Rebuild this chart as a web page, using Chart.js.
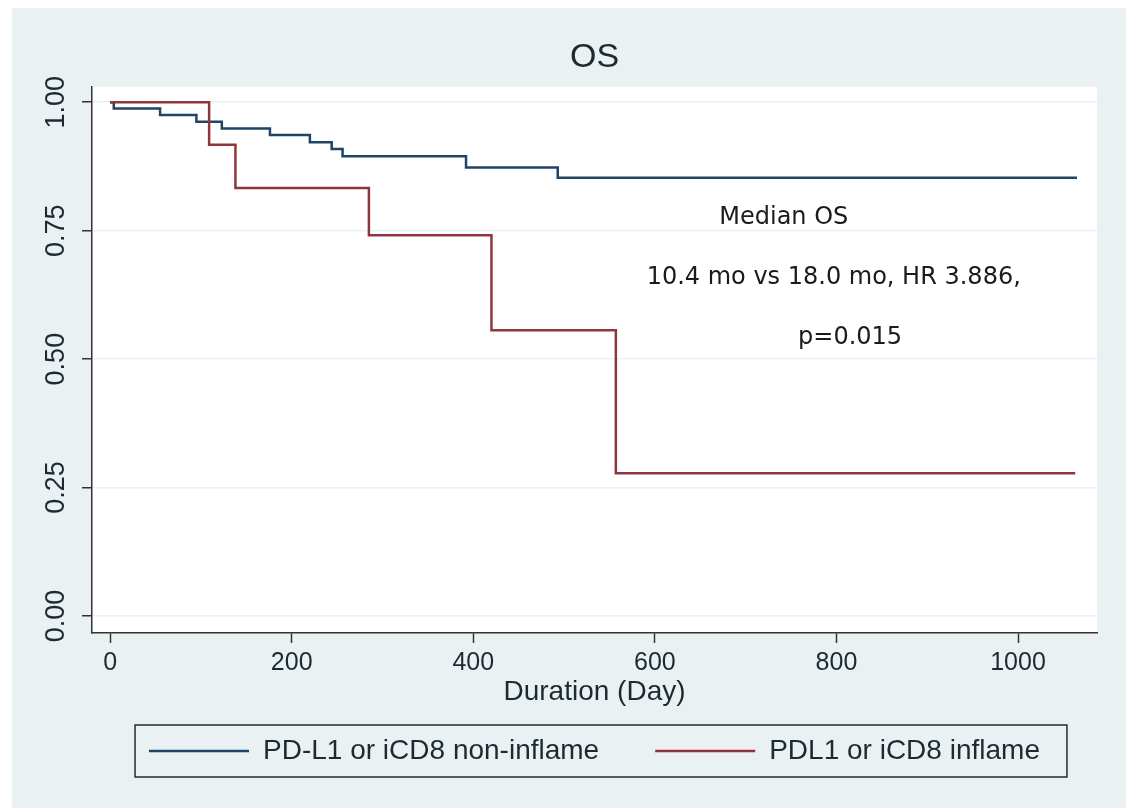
<!DOCTYPE html>
<html>
<head>
<meta charset="utf-8">
<title>OS</title>
<script src="https://cdn.jsdelivr.net/npm/chart.js@4.4.1/dist/chart.umd.min.js"></script>
<style>
  html, body { margin: 0; padding: 0; background: #ffffff; }
  #wrap { position: relative; width: 1126px; height: 809px; }
</style>
</head>
<body>
<div id="wrap"><canvas id="km"></canvas></div>
<script>
// Kaplan-Meier estimates: day of each step and survival right after it
const nonInflameDays = [0, 4, 55, 95, 123, 176, 220, 244, 256, 392, 493, 1065];
const nonInflameSurv = [1, 0.988, 0.975, 0.962, 0.949, 0.936, 0.922, 0.909, 0.895, 0.873, 0.853, 0.853];
const inflameDays = [0, 109, 138, 285, 420, 557, 1063];
const inflameSurv = [1, 0.917, 0.833, 0.741, 0.556, 0.278, 0.278];

const seriesLabels = ['PD-L1 or iCD8 non-inflame', 'PDL1 or iCD8 inflame'];
const xTickValues = [0, 200, 400, 600, 800, 1000];
const yTickValues = [0, 0.25, 0.5, 0.75, 1];
const noteLines = ['Median OS', '10.4 mo vs 18.0 mo, HR 3.886,', 'p=0.015'];

const SANS = '"Liberation Sans", Arial, sans-serif';
const INK = '#1e2a31';

const toPoints = (xs, ys) => xs.map((x, i) => ({ x: x, y: ys[i] }));

/**
 * Graph region fill (light blue) and white plot region
 */
const backdrop = {
    id: 'backdrop',
    beforeDraw(chart) {
        const { ctx, chartArea: a } = chart;
        ctx.save();
        ctx.fillStyle = '#ffffff';
        ctx.fillRect(0, 0, chart.width, chart.height);
        ctx.fillStyle = '#eaf1f3';
        ctx.fillRect(12, 8, chart.width - 12, chart.height - 9);
        ctx.fillStyle = '#ffffff';
        ctx.fillRect(a.left, a.top, a.right - a.left, a.bottom - a.top);
        ctx.restore();
    }
};

/**
 * Frame round the legend items
 */
const legendFrame = {
    id: 'legendFrame',
    afterDraw(chart) {
        const hb = chart.legend && chart.legend.legendHitBoxes;
        if (!hb || !hb.length) return;
        const first = hb[0];
        const last = hb[hb.length - 1];
        const midY = first.top + first.height / 2;
        const left = first.left - 14;
        const right = last.left + last.width + 27;
        const { ctx } = chart;
        ctx.save();
        ctx.strokeStyle = '#2a2a2a';
        ctx.lineWidth = 1.5;
        ctx.strokeRect(left, midY - 26, right - left, 52);
        ctx.restore();
    }
};

/**
 * Median / hazard ratio note, placed in data units
 */
const medianNote = {
    id: 'medianNote',
    afterDatasetsDraw(chart) {
        const { ctx, scales: { x, y } } = chart;
        const anchors = [[742, 0.776], [797, 0.658], [815, 0.541]];
        ctx.save();
        ctx.fillStyle = '#1b1b1b';
        ctx.font = '24px "DejaVu Sans", "Noto Sans", sans-serif';
        ctx.textAlign = 'center';
        ctx.textBaseline = 'middle';
        noteLines.forEach((txt, i) => {
            ctx.fillText(txt, x.getPixelForValue(anchors[i][0]), y.getPixelForValue(anchors[i][1]));
        });
        ctx.restore();
    }
};

new Chart(document.getElementById('km'), {
    type: 'scatter',
    data: {
        datasets: [{
            label: seriesLabels[0],
            data: toPoints(nonInflameDays, nonInflameSurv),
            showLine: true,
            stepped: 'before',
            order: 1,
            borderColor: '#1f4466',
            backgroundColor: '#1f4466',
            borderWidth: 2.5,
            pointRadius: 0
        }, {
            label: seriesLabels[1],
            data: toPoints(inflameDays, inflameSurv),
            showLine: true,
            stepped: 'before',
            order: 0,
            borderColor: '#8f363c',
            backgroundColor: '#8f363c',
            borderWidth: 2.5,
            pointRadius: 0
        }]
    },
    options: {
        responsive: true,
        maintainAspectRatio: false,
        animation: false,
        layout: { padding: { left: 0, right: 29, top: 0, bottom: 34 } },
        scales: {
            x: {
                type: 'linear',
                min: -20,
                max: 1087,
                afterBuildTicks: (scale) => { scale.ticks = xTickValues.map(v => ({ value: v })); },
                afterFit: (scale) => { scale.height = 48; },
                border: { color: '#333333', width: 1.5 },
                grid: { drawOnChartArea: false, drawTicks: true, tickLength: 10, tickColor: '#333333', tickWidth: 1.5 },
                ticks: {
                    color: INK,
                    padding: 5,
                    maxRotation: 0,
                    font: { family: SANS, size: 25 },
                    callback: (v) => String(v)
                },
                title: {
                    display: true,
                    text: 'Duration (Day)',
                    color: INK,
                    font: { family: SANS, size: 28 },
                    padding: { top: 0, bottom: -28 }
                }
            },
            y: {
                type: 'linear',
                min: -0.033,
                max: 1.03,
                afterBuildTicks: (scale) => { scale.ticks = yTickValues.map(v => ({ value: v })); },
                afterFit: (scale) => { scale.width = 92; },
                border: { color: '#333333', width: 1.5 },
                grid: { color: '#eaf1f3', lineWidth: 1.5, drawTicks: true, tickLength: 10, tickColor: '#333333', tickWidth: 1.5 },
                ticks: {
                    color: INK,
                    padding: -1,
                    minRotation: 90,
                    maxRotation: 90,
                    crossAlign: 'center',
                    font: { family: SANS, size: 27 },
                    callback: (v) => Number(v).toFixed(2)
                }
            }
        },
        plugins: {
            title: {
                display: true,
                text: 'OS',
                fullSize: false,
                color: INK,
                font: { family: SANS, size: 34, weight: 'normal' },
                padding: { top: 37, bottom: 9 }
            },
            legend: {
                position: 'bottom',
                fullSize: false,
                labels: {
                    usePointStyle: true,
                    pointStyle: 'line',
                    pointStyleWidth: 100,
                    padding: 56,
                    color: INK,
                    font: { family: SANS, size: 28 },
                    sort: (a, b) => a.datasetIndex - b.datasetIndex
                }
            },
            tooltip: { enabled: false }
        }
    },
    plugins: [backdrop, legendFrame, medianNote]
});
</script>
</body>
</html>
